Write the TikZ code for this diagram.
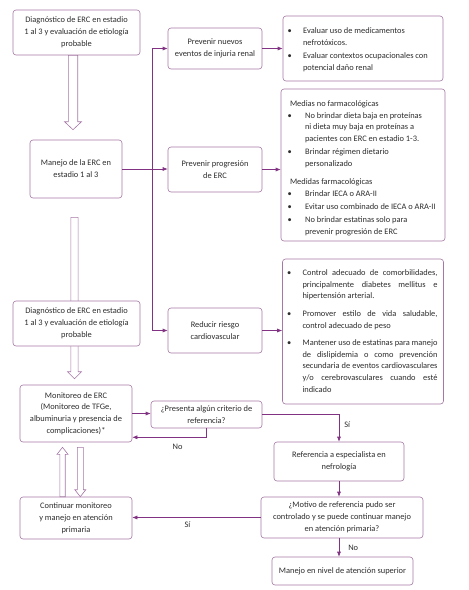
\documentclass[tikz,border=0pt]{standalone}
\usepackage{fontspec}
\setmainfont{Carlito}
\usetikzlibrary{arrows.meta,calc}
\definecolor{boxline}{RGB}{165,120,165}
\definecolor{linkcol}{RGB}{130,50,130}
\definecolor{txtcol}{RGB}{45,45,45}
\newcommand\fsz{\fontsize{8.4}{11.8}\selectfont}
% bullet list: leftmargin, labelsep, itemsep, rightmargin
\newenvironment{blist}[4]{%
  \begin{list}{\textbullet}{\setlength\leftmargin{#1}\setlength\labelsep{#2}%
    \setlength\labelwidth{4pt}\setlength\itemsep{#3}\setlength\rightmargin{#4}%
    \setlength\topsep{0pt}\setlength\parsep{0pt}\setlength\partopsep{0pt}\setlength\itemindent{0pt}}}
  {\end{list}}
% hollow block arrow: start, tip, shaft half width, head half width, head length
\newcommand\hollowarrow[5]{%
  \coordinate (hb) at ($(#2)!#5!(#1)$);
  \draw[hollow] ($(#1)!#3!90:(#2)$) -- ($(hb)!#3!90:(#2)$) -- ($(hb)!#4!90:(#2)$) -- (#2)
    -- ($(hb)!#4!-90:(#2)$) -- ($(hb)!#3!-90:(#2)$) -- ($(#1)!#3!-90:(#2)$) -- cycle;}
\hbadness=10000
\begin{document}
\begin{tikzpicture}[x=1pt, y=-1pt,
    box/.style = {draw=boxline, line width=0.6pt, rounded corners=3pt, fill=white,
                  text=txtcol, font=\fsz, align=center, inner sep=1pt},
    sz/.style 2 args = {minimum width=#1, minimum height=#2},
    listbox/.style = {box, align=left, inner xsep=6pt, inner ysep=0pt},
    link/.style = {draw=linkcol, line width=0.6pt},
    arr/.style = {-{Latex[length=5pt,width=4pt]}},
    hollow/.style = {draw=boxline, line width=0.6pt, fill=white},
    lbl/.style = {font=\fsz, text=txtcol, inner sep=1pt}
    ]
    \fill[white] (0,0) rectangle (469,590);
    \useasboundingbox (0,0) rectangle (469,590);
    % left column
    \node[box, sz={127pt}{45pt}] (diag1) at (76.5,32.5) {Diagnóstico de ERC en estadio\\ 1 al 3 y evaluación de etiología\\ probable};
    \node[box, sz={92pt}{58pt}] (manejo) at (76,169) {Manejo de la ERC en\\ estadio 1 al 3};
    % middle column
    \node[box, sz={94pt}{41pt}] (prev1) at (215,48.5) {Prevenir nuevos\\ eventos de injuria renal};
    \node[box, sz={94pt}{45pt}] (prev2) at (215,169.5) {Prevenir progresión\\ de ERC};
    \node[box, sz={94pt}{45pt}] (riesgo) at (215,330.5) {Reducir riesgo\\ cardiovascular};
    % right column
    \node[listbox] (med1) at (363,48.5) {\begin{minipage}[c][65pt][t]{148pt}\fsz\raggedright\vspace*{12pt}%
      \begin{blist}{14pt}{11.5pt}{1.5pt}{0pt}
      \item Evaluar uso de medicamentos\\ nefrotóxicos.
      \item Evaluar contextos ocupacionales con\\ potencial daño renal
      \end{blist}\end{minipage}};
    \node[listbox] (med2) at (363,165) {\begin{minipage}[c][152pt][t]{148pt}\fsz\raggedright\vspace*{11.5pt}%
      \hspace*{3pt}Medias no farmacológicas
      \begin{blist}{18pt}{13.5pt}{1.2pt}{-4pt}
      \item No brindar dieta baja en proteínas\\ ni dieta muy baja en proteínas a\\ pacientes con ERC en estadio 1-3.
      \item Brindar régimen dietario\\ personalizado
      \end{blist}
      \vspace{6.5pt}
      \hspace*{3pt}Medidas farmacológicas
      \begin{blist}{18pt}{13.5pt}{1.2pt}{-4pt}
      \item Brindar IECA o ARA-II
      \item Evitar uso combinado de IECA o ARA-II
      \item No brindar estatinas solo para\\ prevenir progresión de ERC
      \end{blist}\end{minipage}};
    \node[listbox] (med3) at (363,331.5) {\begin{minipage}[c][145pt][t]{148pt}\fsz\vspace*{10.5pt}%
      \begin{blist}{14pt}{11.5pt}{5.5pt}{-1pt}
      \item Control adecuado de comorbilidades,\linebreak principalmente diabetes mellitus e\linebreak hipertensión arterial.
      \item Promover estilo de vida saludable,\linebreak control adecuado de peso
      \item Mantener uso de estatinas para manejo\linebreak de dislipidemia o como prevención\linebreak secundaria de eventos cardiovasculares\linebreak y/o cerebrovasculares cuando esté\linebreak indicado
      \end{blist}\end{minipage}};
    % lower part
    \node[box, sz={112pt}{57pt}] (monit) at (76,413.5) {Monitoreo de ERC\\ (Monitoreo de TFGe,\\ albuminuria y presencia de\\ complicaciones)*};
    \node[box, sz={111pt}{27pt}] (crit) at (206.5,414.5) {¿Presenta algún criterio de\\ referencia?};
    \node[box, sz={130pt}{39pt}] (refer) at (339,461.5) {Referencia a especialista en\\ nefrología};
    \node[box, sz={162pt}{41pt}] (motivo) at (342,517.5) {¿Motivo de referencia pudo ser\\ controlado y se puede continuar manejo\\ en atención primaria?};
    \node[box, sz={112pt}{42pt}] (contin) at (76,518) {Continuar monitoreo\\ y manejo en atención\\ primaria};
    \node[box, sz={141pt}{28pt}] (superior) at (342.5,571) {Manejo en nivel de atención superior};
    % hollow arrows
    \coordinate (h1a) at ([xshift=-3.5pt]diag1.south);
    \coordinate (h1b) at ([xshift=-3pt,yshift=10pt]manejo.north);
    \hollowarrow{h1a}{h1b}{4.7pt}{8.5pt}{8pt}
    \coordinate (h2a) at ([xshift=-1.5pt,yshift=-19pt]manejo.south);
    \coordinate (h2b) at ([xshift=-1.5pt,yshift=6pt]monit.north);
    \hollowarrow{h2a}{h2b}{3.6pt}{7pt}{7pt}
    \coordinate (h3a) at ([xshift=-13.5pt]contin.north);
    \coordinate (h3b) at ([xshift=-13.5pt,yshift=-5pt]monit.south);
    \hollowarrow{h3a}{h3b}{2.7pt}{5.5pt}{7pt}
    \coordinate (h4a) at ([xshift=4.3pt,yshift=-5pt]monit.south);
    \coordinate (h4b) at ([xshift=4.3pt]contin.north);
    \hollowarrow{h4a}{h4b}{3pt}{5.5pt}{7pt}
    \node[box, sz={127pt}{45pt}] (diag2) at (76.5,323.5) {Diagnóstico de ERC en estadio\\ 1 al 3 y evaluación de etiología\\ probable};
    % connectors
    \coordinate (trunk) at ($(manejo.east)+(30,0)$);
    \draw[link] (trunk |- prev1.west) -- (trunk |- riesgo.west);
    \draw[link,arr] (trunk |- prev1.west) -- (prev1.west);
    \draw[link,arr] (manejo.east) -- (manejo.east -| prev2.west);
    \draw[link,arr] (trunk |- riesgo.west) -- (riesgo.west);
    \draw[link,arr] (prev1.east) -- (prev1.east -| med1.west);
    \draw[link,arr] (prev2.east) -- (prev2.east -| med2.west);
    \draw[link,arr] (riesgo.east) -- (riesgo.east -| med3.west);
    \draw[link,arr] (monit.east) -- (monit.east -| crit.west);
    \draw[link,arr] (crit.south) -- ++(0,9) coordinate (back) -- node[lbl, pos=0.39, below=6pt] (no1) {No} (back -| monit.east);
    \draw[link,arr] (crit.east) -| node[lbl, pos=0.68, right=4pt] (si1) {Sí} (refer.north);
    \draw[link,arr] (refer.south) -- (refer.south |- motivo.north);
    \draw[link,arr] (motivo.west) -- node[lbl, pos=0.57, below=3pt] (si2) {Sí} (motivo.west -| contin.east);
    \draw[link,arr] (refer.south |- motivo.south) -- node[lbl, right=8pt] (no2) {No} (refer.south |- superior.north);
\end{tikzpicture}
\end{document}
